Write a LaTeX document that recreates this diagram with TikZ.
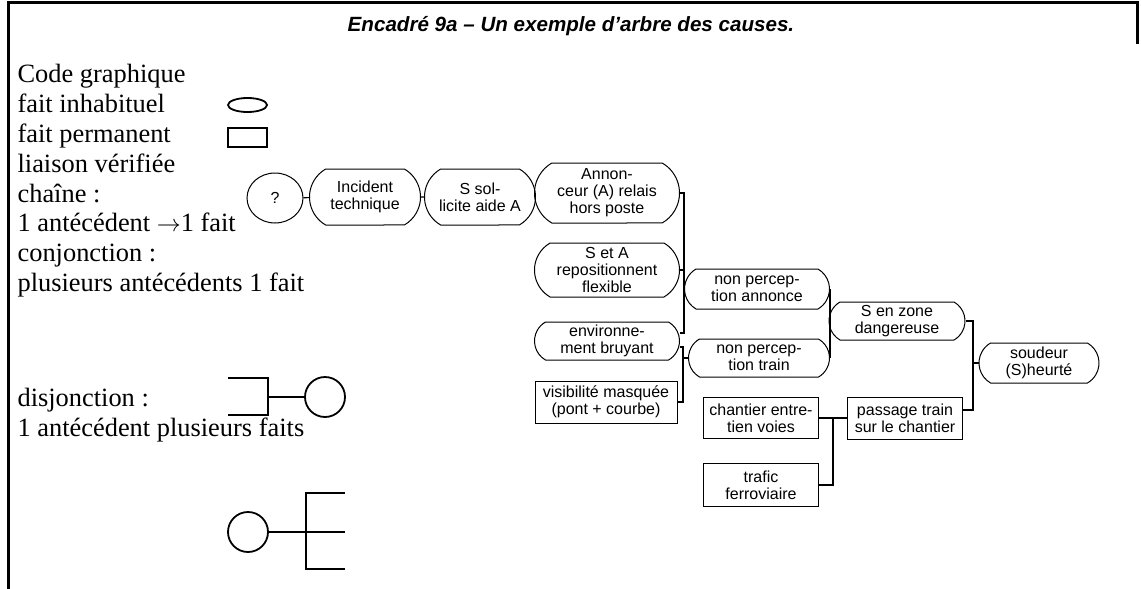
\documentclass[tikz,border=0pt]{standalone}
\usepackage{fontspec}
\setmainfont{Liberation Serif}
\setsansfont{Liberation Sans}
\usetikzlibrary{shapes.misc,shapes.geometric}

\tikzset{
  fait/.style={draw, rounded rectangle, rounded rectangle arc length=120, inner xsep=-4pt, inner ysep=0pt,
    align=center, font=\sffamily\fontsize{8}{8.5}\selectfont, line width=0.5pt},
  faitperm/.style={draw, rectangle, inner sep=0pt, align=center,
    font=\sffamily\fontsize{8}{8.5}\selectfont, line width=0.5pt},
  legende/.style={anchor=north west, align=left, inner sep=0pt, font=\fontsize{13.2}{14.9}\selectfont},
  symb/.style={draw, line width=0.9pt, inner sep=0pt},
}

\begin{document}
\begin{tikzpicture}[x=0.5pt, y=-0.5pt, line width=0.6pt]
\useasboundingbox (0,0) rectangle (1141,589);

% cadre et titre
\draw[line width=1.5pt] (8,589) -- (8,2) -- (1137,2) -- (1137,44);
\node[font=\sffamily\bfseries\itshape\fontsize{10.3}{12}\selectfont] (titre) at (571,26) {Encadré 9a – Un exemple d’arbre des causes.};

% code graphique
\node[legende] (code) at (17,64) {Code graphique\\fait inhabituel\\fait permanent\\liaison vérifiée\\chaîne :\\1 antécédent $\rightarrow$1 fait\\conjonction :\\plusieurs antécédents 1 fait};
\node[legende] (disjtxt) at (17,388) {disjonction :\\1 antécédent plusieurs faits};
\node[symb, ellipse, minimum width=19.5pt, minimum height=7pt] (inhab) at (247.5,105) {};
\node[symb, rectangle, minimum width=19.5pt, minimum height=9.5pt] (perm) at (247.5,137.5) {};

\node[symb, circle, minimum size=20pt] (disj) at (325,397) {};
\coordinate (dh) at (228,378);
\coordinate (db) at (228,415);
\coordinate (dv) at (268,397);
\draw[line width=0.9pt] (dh) -| (dv |- db) -- (db);
\draw[line width=0.9pt] (dv) -- (disj.west);

\node[symb, circle, minimum size=20pt] (conj) at (248,532) {};
\coordinate (ch) at (345,493);
\coordinate (cm) at (345,532);
\coordinate (cb) at (345,569);
\coordinate (cv) at (306,532);
\draw[line width=0.9pt] (ch) -| (cv |- cb) -- (cb);
\draw[line width=0.9pt] (conj.east) -- (cm);

% arbre des causes
\node[draw, ellipse, line width=0.5pt, minimum width=28pt, minimum height=25pt, inner sep=0pt,
  font=\sffamily\fontsize{8}{8.5}\selectfont] (q) at (275,198) {?};
\node[fait, minimum width=47.5pt, minimum height=28pt] (inc) at (365,197) {Incident\\technique};
\node[fait, minimum width=47.5pt, minimum height=28pt] (sol) at (480,197) {S sol-\\licite aide A};
\node[fait, minimum width=64.5pt, minimum height=30pt] (ann) at (607,193) {Annon-\\ceur (A) relais\\hors poste};
\node[fait, minimum width=64.5pt, minimum height=27pt] (sea) at (607,270) {S et A\\repositionnent\\flexible};
\node[fait, minimum width=64.5pt, minimum height=19pt] (env) at (607,341) {environne-\\ment bruyant};
\node[faitperm, minimum width=71pt, minimum height=21pt] (vis) at (606,402) {visibilité masquée\\(pont + courbe)};
\node[fait, minimum width=64.5pt, minimum height=20pt] (npa) at (757,289) {non percep-\\tion annonce};
\node[fait, minimum width=62.5pt, minimum height=19pt] (npt) at (759,358) {non percep-\\tion train};
\node[fait, minimum width=60pt, minimum height=19pt] (zone) at (897,321) {S en zone\\dangereuse};
\node[fait, minimum width=52pt, minimum height=20pt] (soud) at (1039,363) {soudeur\\(S)heurté};
\node[faitperm, minimum width=57.5pt, minimum height=20.5pt] (chan) at (761,418) {chantier entre-\\tien voies};
\node[faitperm, minimum width=57.5pt, minimum height=21pt] (pass) at (905,418) {passage train\\sur le chantier};
\node[faitperm, minimum width=57.5pt, minimum height=21.5pt] (traf) at (761,485) {trafic\\ferroviaire};

\coordinate (ja) at (684,0);
\coordinate (jb) at (683,0);
\coordinate (jc) at (973,0);
\coordinate (jd) at (833,0);

\draw (q) -- (inc);
\draw (inc) -- (sol);
\draw (sol) -- (ann);
\draw (ann.east) -| ([yshift=4pt]env.east -| ja) -- ([yshift=4pt]env.east);
\draw (sea.east) -| (ja |- npa.west) -- (npa.west);
\draw ([yshift=-3pt]env.east) -| (jb |- vis.east) -- (vis.east);
\draw (jb |- npt.west) -- (npt.west);
\draw (npa.east) -- (npt.east);
\draw (zone.west) -- (zone.west -| npa.east);
\draw (zone.east) -| ([yshift=4pt]pass.east -| jc) -- ([yshift=4pt]pass.east);
\draw (jc |- soud.west) -- (soud.west);
\draw (chan.east) -- (pass.west);
\draw (jd |- chan.east) |- (traf.east);
\end{tikzpicture}
\end{document}
